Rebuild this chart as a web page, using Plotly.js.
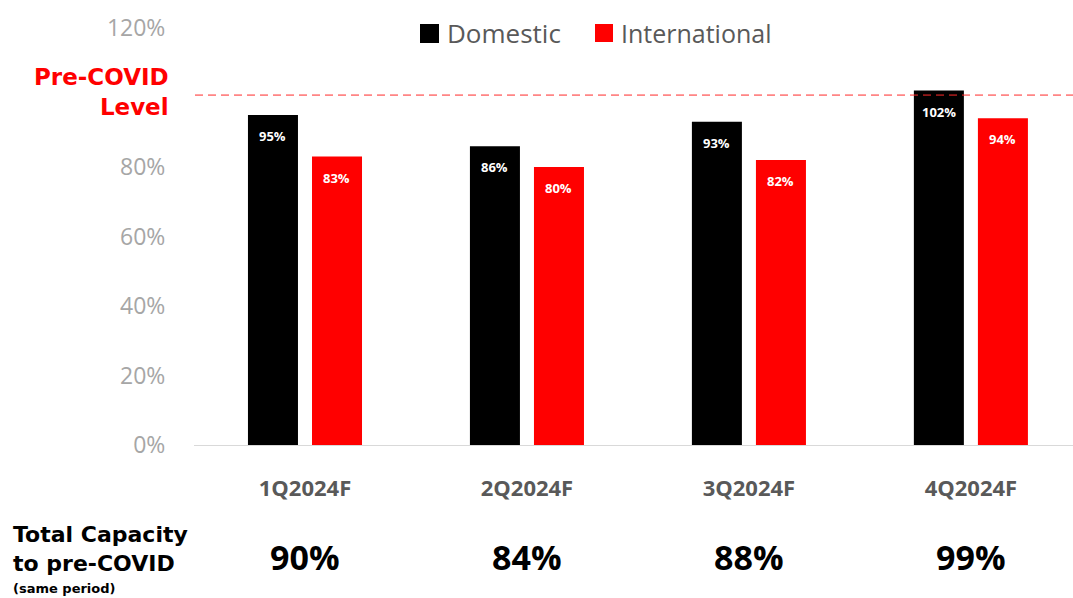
<!DOCTYPE html>
<html><head><meta charset="utf-8">
<script src="https://cdn.plot.ly/plotly-3.0.1.min.js"></script>
<style>html,body{margin:0;padding:0;background:#fff}#chart{width:1073px;height:598px}</style>
</head><body><div id="chart"></div>
<script>
const categories = ["1Q2024F","2Q2024F","3Q2024F","4Q2024F"];
const domestic = [95, 86, 93, 102];
const international = [83, 80, 82, 94];
const totalCapacity = ["90%","84%","88%","99%"];
const yTickVals = [0,20,40,60,80,100,120];
const yTickText = ["0%","20%","40%","60%","80%","","120%"];
const seriesNames = ["Domestic","International"];
const seriesColors = ["#000000","#ff0000"];
const preCovidLevel = 100.7;

const FONT = "Open Sans, Lato, sans-serif";
const BOLDFONT = "DejaVu Sans, Open Sans, sans-serif";

const traces = [
  {type:"bar", name:seriesNames[0], x:categories, y:domestic, marker:{color:seriesColors[0]}, hoverinfo:"none"},
  {type:"bar", name:seriesNames[1], x:categories, y:international, marker:{color:seriesColors[1]}, hoverinfo:"none"}
];

// plot area pixel helpers (for paper-coordinate placement of decorations)
const L = 194, T = 28, W = 879, H = 417;
const px = x => (x - L) / W;
const py = y => (T + H - y) / H;

const annotations = [
  {xref:"paper", yref:"paper", x:px(171), y:py(92), xanchor:"right", yanchor:"middle", align:"right",
   text:"<b>Pre-COVID<br>Level</b>", showarrow:false, font:{family:BOLDFONT, size:23, color:"#ff0000"}},
  {xref:"paper", yref:"paper", x:px(11), y:py(549), xanchor:"left", yanchor:"middle", align:"left",
   text:"<b>Total Capacity<br>to pre-COVID</b>",
   showarrow:false, font:{family:BOLDFONT, size:22, color:"#000000"}},
  {xref:"paper", yref:"paper", x:px(11), y:py(588), xanchor:"left", yanchor:"middle", align:"left",
   text:"<b>(same period)</b>",
   showarrow:false, font:{family:BOLDFONT, size:13, color:"#000000"}},
  {xref:"paper", yref:"paper", x:px(445), y:py(33), xanchor:"left", yanchor:"middle",
   text:seriesNames[0], showarrow:false, font:{family:FONT, size:26, color:"#595959"}},
  {xref:"paper", yref:"paper", x:px(619), y:py(33), xanchor:"left", yanchor:"middle",
   text:seriesNames[1], showarrow:false, font:{family:FONT, size:25, color:"#595959"}}
];
categories.forEach((c,i) => {
  annotations.push({xref:"x", yref:"paper", x:c, y:py(557), xanchor:"center", yanchor:"middle",
    text:"<b>"+totalCapacity[i]+"</b>", showarrow:false, font:{family:FONT, size:34, color:"#000000"}});
  annotations.push({xref:"x", yref:"y", x:c, y:domestic[i], xanchor:"center", yanchor:"middle",
    xshift:-32, yshift:-21, text:"<b>"+domestic[i]+"%</b>", showarrow:false,
    font:{family:FONT, size:13, color:"#ffffff"}});
  annotations.push({xref:"x", yref:"y", x:c, y:international[i], xanchor:"center", yanchor:"middle",
    xshift:32, yshift:-21, text:"<b>"+international[i]+"%</b>", showarrow:false,
    font:{family:FONT, size:13, color:"#ffffff"}});
});

const shapes = [
  {type:"line", xref:"paper", yref:"y", x0:px(195), x1:1, y0:preCovidLevel, y1:preCovidLevel,
   line:{color:"#ff2a2a", width:1, dash:"8px,5px"}},
  {type:"rect", xref:"paper", yref:"paper", x0:px(420), x1:px(439), y0:py(43), y1:py(24),
   fillcolor:seriesColors[0], line:{width:0}},
  {type:"rect", xref:"paper", yref:"paper", x0:px(595), x1:px(613), y0:py(42), y1:py(24),
   fillcolor:seriesColors[1], line:{width:0}}
];

const layout = {
  width:1073, height:598,
  margin:{l:L, r:0, t:T, b:598-T-H},
  paper_bgcolor:"#ffffff", plot_bgcolor:"#ffffff",
  barmode:"group", bargap:0.423, bargroupgap:0.219,
  showlegend:false,
  xaxis:{range:[-0.5,3.46], showgrid:false, zeroline:false, showline:true, linecolor:"#d9d9d9", linewidth:1,
    ticks:"outside", ticklen:24, tickcolor:"rgba(0,0,0,0)",
    tickfont:{family:FONT, size:22, color:"#595959", weight:"bold"}, fixedrange:true},
  yaxis:{range:[0,120], tickvals:yTickVals, ticktext:yTickText, showgrid:false, zeroline:false, showline:false,
    ticks:"outside", ticklen:23, tickcolor:"rgba(0,0,0,0)",
    tickfont:{family:FONT, size:23, color:"#a6a6a6"}, fixedrange:true},
  shapes:shapes,
  annotations:annotations
};

Plotly.newPlot("chart", traces, layout, {displayModeBar:false, staticPlot:true});
</script></body></html>
